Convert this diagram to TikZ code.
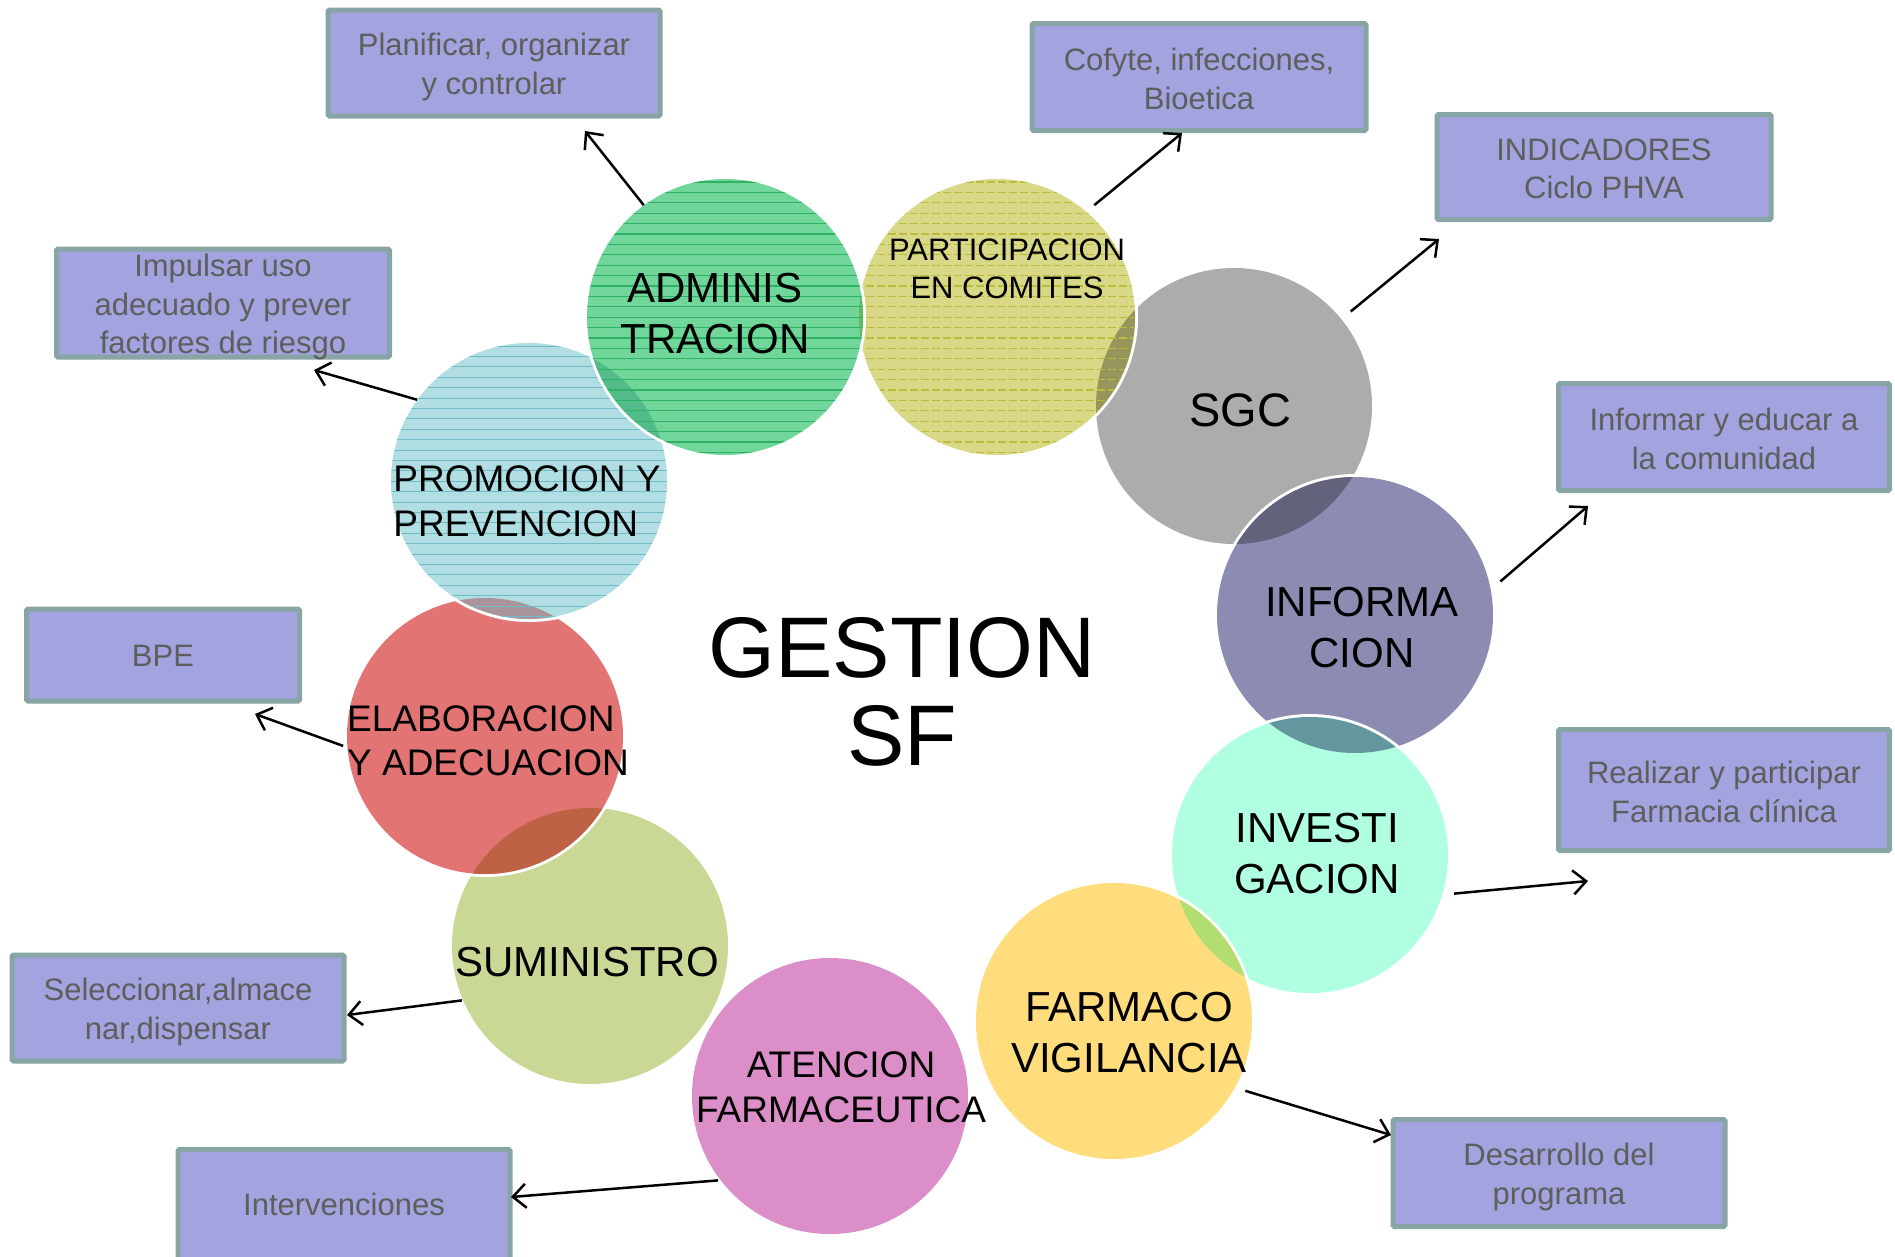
\documentclass[tikz,border=0pt]{standalone}
\usepackage{fontspec}
\setmainfont{Liberation Sans}
\usetikzlibrary{arrows.meta}
\definecolor{cSgc}{RGB}{172,172,172}
\definecolor{cPar}{RGB}{216,216,135}
\definecolor{cInf}{RGB}{140,140,178}
\definecolor{cInv}{RGB}{175,255,224}
\definecolor{cFar}{RGB}{255,221,125}
\definecolor{cAte}{RGB}{220,142,200}
\definecolor{cSum}{RGB}{202,216,150}
\definecolor{cEla}{RGB}{226,116,116}
\definecolor{cPro}{RGB}{176,222,226}
\definecolor{cAdm}{RGB}{112,214,154}
\definecolor{xParSgc}{RGB}{150,150,92}
\definecolor{xInfSgc}{RGB}{98,98,124}
\definecolor{xInvInf}{RGB}{100,150,160}
\definecolor{xFarInv}{RGB}{178,221,112}
\definecolor{xElaSum}{RGB}{190,98,70}
\definecolor{xProEla}{RGB}{168,148,154}
\definecolor{xAdmPro}{RGB}{84,188,138}
\definecolor{xAdmPar}{RGB}{100,186,96}
\definecolor{lAdm}{RGB}{48,178,100}
\definecolor{lPar}{RGB}{188,188,60}
\definecolor{lPro}{RGB}{112,188,198}
\definecolor{boxfill}{RGB}{163,163,223}
\definecolor{boxline}{RGB}{136,165,165}
\definecolor{boxtext}{RGB}{94,94,94}
\tikzset{
  anc/.style={circle, minimum size=#1, inner sep=0pt},
  lbl/.style={align=center, text=black, inner sep=0pt},
  lbll/.style={align=left, text=black, inner sep=0pt},
  boxnode/.style={draw=boxline, fill=boxfill, line width=5pt, rounded corners=1.5pt, inner sep=0pt},
  boxtxt/.style={text=boxtext, align=center, font=\fontsize{31}{38.5}\selectfont, inner sep=0pt},
  arr/.style={-{Straight Barb[length=13pt,width=24pt,line width=2.5pt]}, line width=2.5pt, black},
}
% #1 name, #2 fill colour
\newcommand\mybubble[2]{%
  \fill[white] (#1.center) circle (141);
  \fill[#2] (#1.center) circle (138);}
% #1 upper, #2 lower, #3 colour of the overlap
\newcommand\myoverlap[3]{%
  \begin{scope}\clip (#2.center) circle (138);
    \fill[#3] (#1.center) circle (138);
  \end{scope}}
% #1 name, #2 line style, #3 left x, #4 top y
\newcommand\mystripes[4]{%
  \begin{scope}\clip (#1.center) circle (138);
    \foreach \k in {0,...,27} \draw[#2] (#3,{#4+10.4*\k}) -- ({#3+290},{#4+10.4*\k});
  \end{scope}}
\begin{document}
\begin{tikzpicture}[x=1pt,y=-1pt]
\useasboundingbox (0,0) rectangle (1895,1256);
% anchor nodes of the circles
\node[anc=300] (sgc) at (1234,406) {};
\node[anc=296] (par) at (997,317) {};
\node[anc=298] (inf) at (1355,615) {};
\node[anc=298] (inv) at (1310,855) {};
\node[anc=297] (far) at (1114,1021) {};
\node[anc=280] (ate) at (830,1096) {};
\node[anc=278] (sum) at (590,946) {};
\node[anc=284] (ela) at (485,736) {};
\node[anc=276] (pro) at (529,481) {};
\node[anc=276] (adm) at (725,317) {};
% circles, bottom to top
\mybubble{sgc}{cSgc}
\mybubble{par}{cPar}
\myoverlap{par}{sgc}{xParSgc}
\mystripes{par}{lPar, line width=1.2pt, dash pattern=on 8pt off 3pt}{855}{182}
\mybubble{inf}{cInf}
\myoverlap{inf}{sgc}{xInfSgc}
\mybubble{inv}{cInv}
\myoverlap{inv}{inf}{xInvInf}
\mybubble{far}{cFar}
\myoverlap{far}{inv}{xFarInv}
\mybubble{ate}{cAte}
\mybubble{sum}{cSum}
\mybubble{ela}{cEla}
\myoverlap{ela}{sum}{xElaSum}
\mybubble{pro}{cPro}
\myoverlap{pro}{ela}{xProEla}
\mystripes{pro}{lPro, line width=1pt}{385}{346}
\mybubble{adm}{cAdm}
\myoverlap{adm}{pro}{xAdmPro}
\myoverlap{adm}{par}{xAdmPar}
\mystripes{adm}{lAdm, line width=1.2pt}{582}{182}
% circle labels
\node[lbl, font=\fontsize{42}{51}\selectfont] (ladm) at (715,314) {ADMINIS\\TRACION};
\node[lbl, font=\fontsize{31}{38}\selectfont] (lpar) at (1007,269) {PARTICIPACION\\EN COMITES};
\node[lbl, font=\fontsize{47}{56}\selectfont] (lsgc) at (1240,410) {SGC};
\node[lbl, font=\fontsize{42}{51}\selectfont] (linf) at (1362,628) {INFORMA\\CION};
\node[lbl, font=\fontsize{42}{51}\selectfont] (linv) at (1317,854) {INVESTI\\GACION};
\node[lbl, font=\fontsize{42}{51}\selectfont] (lfar) at (1129,1033) {FARMACO\\VIGILANCIA};
\node[lbl, font=\fontsize{37}{45}\selectfont] (late) at (841,1087) {ATENCION\\FARMACEUTICA};
\node[lbl, font=\fontsize{42}{51}\selectfont] (lsum) at (587,962) {SUMINISTRO};
\node[lbll, font=\fontsize{37}{44}\selectfont] (lela) at (488,741) {ELABORACION\\Y ADECUACION};
\node[lbll, font=\fontsize{37}{45}\selectfont] (lpro) at (527,501) {PROMOCION Y\\PREVENCION};
% centre title
\node[lbl, font=\fontsize{86}{88}\selectfont] (gest) at (902,692) {GESTION\\SF};
% boxes
\node[boxnode, minimum width=332, minimum height=106] (b1) at (494,63) {};
\node[boxnode, minimum width=334, minimum height=107] (b2) at (1199,77) {};
\node[boxnode, minimum width=334, minimum height=105] (b3) at (1604,167) {};
\node[boxnode, minimum width=333, minimum height=108] (b4) at (223,303) {};
\node[boxnode, minimum width=331, minimum height=107] (b5) at (1724,437) {};
\node[boxnode, minimum width=273, minimum height=92] (b6) at (163,655) {};
\node[boxnode, minimum width=331, minimum height=121] (b7) at (1724,790) {};
\node[boxnode, minimum width=332, minimum height=106] (b8) at (178,1008) {};
\node[boxnode, minimum width=332, minimum height=113] (b9) at (344,1206) {};
\node[boxnode, minimum width=332, minimum height=107] (b10) at (1559,1173) {};
\node[boxtxt] (t1) at (494,67) {Planificar, organizar\\y controlar};
\node[boxtxt] (t2) at (1199,79) {Cofyte, infecciones,\\Bioetica};
\node[boxtxt] (t3) at (1604,169) {INDICADORES\\Ciclo PHVA};
\node[boxtxt] (t4) at (223,307) {Impulsar uso\\adecuado y prever\\factores de riesgo};
\node[boxtxt] (t5) at (1724,439) {Informar y educar a\\la comunidad};
\node[boxtxt] (t6) at (163,656) {BPE};
\node[boxtxt] (t7) at (1724,792) {Realizar y participar\\Farmacia clínica};
\node[boxtxt] (t8) at (178,1012) {Seleccionar,almace\\nar,dispensar};
\node[boxtxt] (t9) at (344,1204) {Intervenciones};
\node[boxtxt] (t10) at (1559,1177) {Desarrollo del\\programa};
% arrow tips
\coordinate (e1) at (585,131);
\coordinate (e2) at (1182,133);
\coordinate (e3) at (1439,239);
\coordinate (e4) at (1588,506);
\coordinate (e5) at (1588,881);
\coordinate (e6) at (1391,1135);
\coordinate (e7) at (511,1197);
\coordinate (e8) at (347,1015);
\coordinate (e9) at (255,714);
\coordinate (e10) at (314,370);
\draw[arr] (adm.126) -- (e1);
\draw[arr] (par.49) -- (e2);
\draw[arr] (sgc.39) -- (e3);
\draw[arr] (inf.13) -- (e4);
\draw[arr] (inv.-15) -- (e5);
\draw[arr] (far.-28) -- (e6);
\draw[arr] (ate.217) -- (e7);
\draw[arr] (sum.203) -- (e8);
\draw[arr] (ela.184) -- (e9);
\draw[arr] (pro.144) -- (e10);
\end{tikzpicture}
\end{document}
